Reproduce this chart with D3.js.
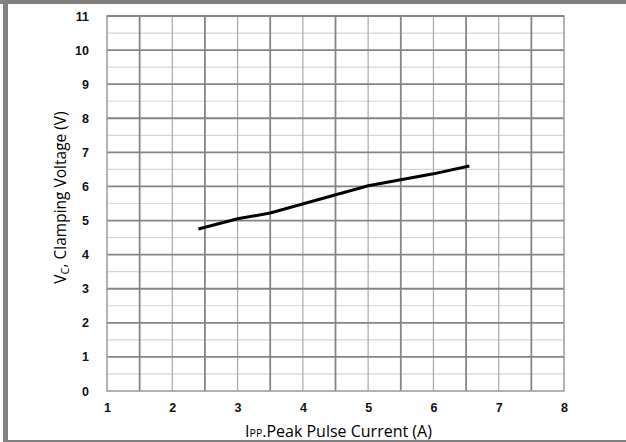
<!DOCTYPE html>
<html><head><meta charset="utf-8">
<script src="https://cdn.jsdelivr.net/npm/d3@7"></script>
<style>html,body{margin:0;padding:0;background:#fff;}svg{display:block;}</style>
</head><body>
<svg id="c" width="626" height="442"></svg>
<script>
const xTicks = [1,2,3,4,5,6,7,8];
const yTicks = [0,1,2,3,4,5,6,7,8,9,10,11];
const currentA = [2.4, 3.0, 3.5, 5.0, 6.0, 6.55];
const clampV   = [4.75, 5.05, 5.22, 6.02, 6.37, 6.6];

const svg = d3.select("#c");
const L=107, R=564, T=16, B=391;
const x = d3.scaleLinear().domain([1,8]).range([L,R]);
const y = d3.scaleLinear().domain([0,11]).range([B,T]);

// frame
svg.append("rect").attr("x",0).attr("y",0).attr("width",626).attr("height",4).attr("fill","#808080");
svg.append("rect").attr("x",3).attr("y",0).attr("width",5).attr("height",442).attr("fill","#808080");
svg.append("rect").attr("x",3).attr("y",440).attr("width",623).attr("height",2).attr("fill","#808080");

const g = svg.append("g");
// minor horizontal (half units)
const hMinor = d3.range(0.5, 11, 1);
g.selectAll(".hm").data(hMinor).join("line")
  .attr("x1",L).attr("x2",R).attr("y1",d=>y(d)).attr("y2",d=>y(d))
  .attr("stroke","#d6d6d6").attr("stroke-width",1.2);
// minor vertical at integers
const vMinor = d3.range(2, 8, 1);
g.selectAll(".vm").data(vMinor).join("line")
  .attr("y1",T).attr("y2",B).attr("x1",d=>x(d)).attr("x2",d=>x(d))
  .attr("stroke","#a8a8a8").attr("stroke-width",1.2);
// major horizontal at integers
g.selectAll(".hM").data(d3.range(1, 11, 1)).join("line")
  .attr("x1",L).attr("x2",R).attr("y1",d=>y(d)).attr("y2",d=>y(d))
  .attr("stroke","#858585").attr("stroke-width",1.8);
// major vertical at halves
g.selectAll(".vM").data(d3.range(1.5, 8, 1)).join("line")
  .attr("y1",T).attr("y2",B).attr("x1",d=>x(d)).attr("x2",d=>x(d))
  .attr("stroke","#858585").attr("stroke-width",1.8);
// plot border
g.append("rect").attr("x",L).attr("y",T).attr("width",R-L).attr("height",B-T)
  .attr("fill","none").attr("stroke","#999").attr("stroke-width",1.5);
g.append("line").attr("x1",L).attr("x2",R).attr("y1",T).attr("y2",T).attr("stroke","#858585").attr("stroke-width",2);

// axes (tick labels only)
const tickFont = "'Liberation Sans', Arial, sans-serif";
const xa = svg.append("g").attr("transform",`translate(0,${B})`)
  .call(d3.axisBottom(x).tickValues(xTicks).tickFormat(d3.format("d")).tickSize(0).tickPadding(12));
xa.select(".domain").remove();
xa.selectAll("text").attr("font-family",tickFont).attr("font-weight","bold").attr("font-size",12.5).attr("fill","#111");
const ya = svg.append("g").attr("transform",`translate(${L},0)`)
  .call(d3.axisLeft(y).tickValues(yTicks).tickFormat(d3.format("d")).tickSize(0).tickPadding(18));
ya.select(".domain").remove();
ya.selectAll("text").attr("font-family",tickFont).attr("font-weight","bold").attr("font-size",12.5).attr("fill","#111");

// curve
const pts = currentA.map((c,i)=>[c, clampV[i]]);
svg.append("path").datum(pts)
  .attr("d", d3.line().x(d=>x(d[0])).y(d=>y(d[1])))
  .attr("fill","none").attr("stroke","#000").attr("stroke-width",3).attr("stroke-linecap","butt");

// titles
const titleFont = "'Open Sans', 'Noto Sans', sans-serif";
const yt = svg.append("text").attr("transform",`translate(66,${(T+B)/2-6}) rotate(-90)`)
  .attr("text-anchor","middle").attr("font-family",titleFont).attr("font-size",15.5).attr("fill","#000");
yt.append("tspan").text("V");
yt.append("tspan").attr("font-size",11).attr("dy",3).text("C");
yt.append("tspan").attr("dy",-3).text(", Clamping Voltage (V)");

const xt = svg.append("text").attr("x",(L+R)/2+3).attr("y",437)
  .attr("text-anchor","middle").attr("font-family",titleFont).attr("font-size",16).attr("fill","#000");
xt.append("tspan").text("I");
xt.append("tspan").attr("font-size",10.5).text("PP");
xt.append("tspan").text(".Peak Pulse Current (A)");
</script>
</body></html>
